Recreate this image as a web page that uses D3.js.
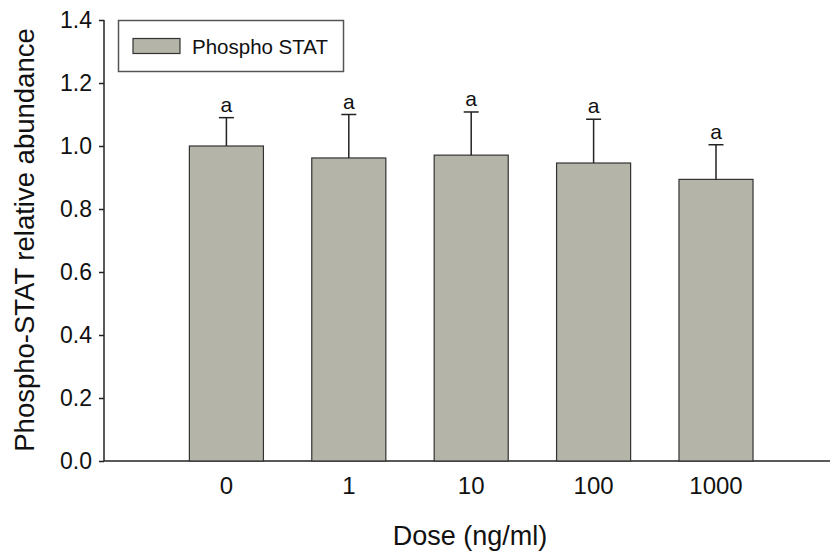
<!DOCTYPE html>
<html>
<head>
<meta charset="utf-8">
<script src="https://cdn.jsdelivr.net/npm/d3@7"></script>
<style>
  body { margin: 0; background: #fff; }
  svg { display: block; font-family: "Liberation Sans", Arial, sans-serif; }
</style>
</head>
<body>
<svg id="chart" width="830" height="553"></svg>
<script>
const categories = ["0", "1", "10", "100", "1000"];
const values = [1.0, 0.962, 0.971, 0.946, 0.894];
const errors = [0.09, 0.138, 0.137, 0.139, 0.11];
const letters = ["a", "a", "a", "a", "a"];
const yTicks = [0.0, 0.2, 0.4, 0.6, 0.8, 1.0, 1.2, 1.4];
const seriesName = "Phospho STAT";

const svg = d3.select("#chart");
const barFill = "#b5b4a8";
const ink = "#222";

const x = d3.scaleBand()
  .domain(categories)
  .range([104 + 61.2, 104 + 6 * 122.4 - 61.2])
  .paddingInner(0.395)
  .paddingOuter(0.1975);

const y = d3.scaleLinear().domain([0, 1.4]).range([461, 20]);

// Y axis
const yAxis = svg.append("g")
  .attr("transform", "translate(104,0)")
  .call(d3.axisLeft(y).tickValues(yTicks).tickFormat(d3.format(".1f")).tickSize(5).tickPadding(7));
yAxis.select(".domain").attr("stroke", ink).attr("stroke-width", 1.5).attr("d", "M0,20V461");
yAxis.selectAll(".tick line").attr("stroke", ink).attr("stroke-width", 1.5);
yAxis.selectAll(".tick text").attr("fill", "#111").attr("font-size", 23).attr("font-family", "Liberation Sans, Arial, sans-serif");

// X axis
const xAxis = svg.append("g")
  .attr("transform", "translate(0,461)")
  .call(d3.axisBottom(x).tickSize(0).tickPadding(16));
xAxis.select(".domain").attr("stroke", ink).attr("stroke-width", 1.5).attr("d", "M104,0H830");
xAxis.selectAll(".tick text").attr("fill", "#111").attr("font-size", 24).attr("font-family", "Liberation Sans, Arial, sans-serif");

// Bars
svg.append("g").selectAll("rect")
  .data(categories)
  .join("rect")
  .attr("x", (d) => x(d))
  .attr("y", (d, i) => y(values[i]))
  .attr("width", x.bandwidth())
  .attr("height", (d, i) => y(0) - y(values[i]))
  .attr("fill", barFill)
  .attr("stroke", "#333")
  .attr("stroke-width", 1.2);

// Error bars (upper only)
const eb = svg.append("g").attr("stroke", ink).attr("stroke-width", 1.5);
categories.forEach((c, i) => {
  const cx = x(c) + x.bandwidth() / 2;
  eb.append("line").attr("x1", cx).attr("x2", cx)
    .attr("y1", y(values[i])).attr("y2", y(values[i] + errors[i]));
  eb.append("line").attr("x1", cx - 7.5).attr("x2", cx + 7.5)
    .attr("y1", y(values[i] + errors[i])).attr("y2", y(values[i] + errors[i]));
});

// Significance letters
svg.append("g").selectAll("text")
  .data(categories)
  .join("text")
  .attr("x", (d) => x(d) + x.bandwidth() / 2)
  .attr("y", (d, i) => y(values[i] + errors[i]) - 6)
  .attr("text-anchor", "middle")
  .attr("font-size", 21)
  .attr("fill", "#111")
  .text((d, i) => letters[i]);

// Legend
const lg = svg.append("g");
lg.append("rect").attr("x", 118.5).attr("y", 20.5).attr("width", 225).attr("height", 51)
  .attr("fill", "#fff").attr("stroke", "#555").attr("stroke-width", 1.5);
lg.append("rect").attr("x", 133).attr("y", 38.5).attr("width", 47).attr("height", 15)
  .attr("fill", barFill).attr("stroke", "#333").attr("stroke-width", 1.2);
lg.append("text").attr("x", 192).attr("y", 53.5).attr("font-size", 20.5).attr("fill", "#111").text(seriesName);

// Axis titles
svg.append("text").attr("x", 470).attr("y", 545).attr("text-anchor", "middle")
  .attr("font-size", 27).attr("fill", "#111").text("Dose (ng/ml)");
svg.append("text").attr("transform", "translate(34,240) rotate(-90)").attr("text-anchor", "middle")
  .attr("font-size", 27.5).attr("fill", "#111").text("Phospho-STAT relative abundance");
</script>
</body>
</html>
